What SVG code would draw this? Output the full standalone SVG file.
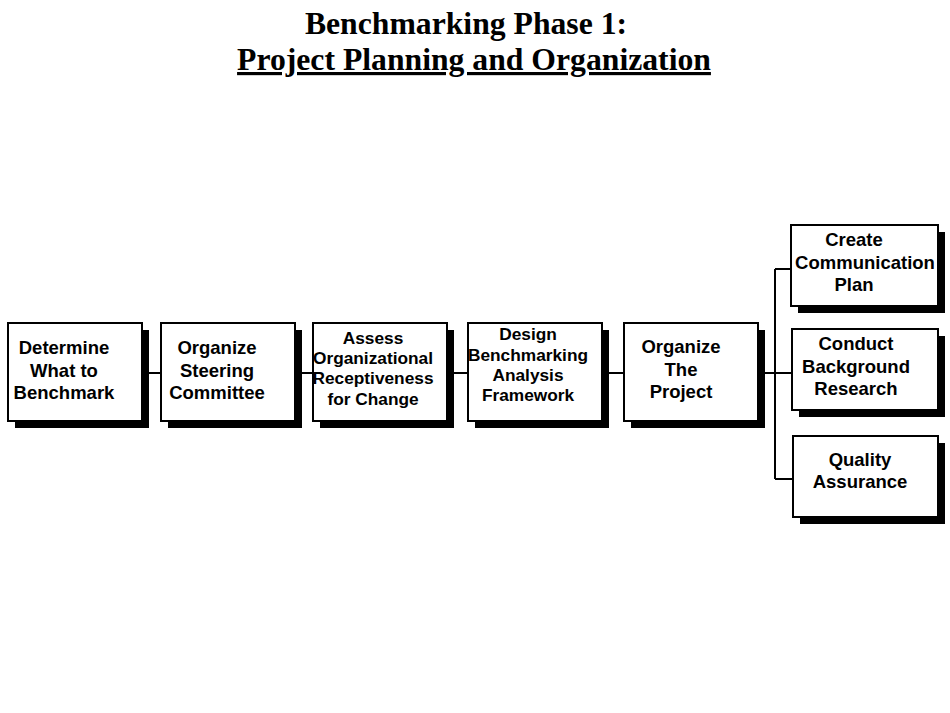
<svg xmlns="http://www.w3.org/2000/svg" width="950" height="713" viewBox="0 0 950 713">
<style>
.sh{fill:#000}
.bx{fill:#fff;stroke:#000;stroke-width:2}
.t{font-family:"Liberation Sans",Arial,sans-serif;font-weight:bold;font-size:18.5px;text-anchor:middle}
.s{font-size:17.3px}
.ttl{font-family:"Liberation Serif","Times New Roman",serif;font-weight:bold;font-size:31.7px;text-anchor:middle}
.c{stroke:#000;stroke-width:2;fill:none}
</style>
<rect width="950" height="713" fill="#fff"/>
<text class="ttl" x="466" y="34">Benchmarking Phase 1:</text>
<text class="ttl" x="474" y="70" text-decoration="underline">Project Planning and Organization </text>
<g id="connectors">
<path class="c" d="M149 373H161M302 373H313M454 373H468M609 373H624M765 373H792M775 269V479M775 269H791M775 479H793"/>
</g>
<g id="n1"><rect class="sh" x="15" y="330" width="134" height="98"/><rect class="bx" x="8" y="323" width="134" height="98"/>
<text class="t"><tspan x="64" y="354">Determine</tspan><tspan x="64" y="377">What to</tspan><tspan x="64" y="399">Benchmark</tspan></text></g>
<g id="n2"><rect class="sh" x="168" y="330" width="134" height="98"/><rect class="bx" x="161" y="323" width="134" height="98"/>
<text class="t"><tspan x="217" y="354">Organize</tspan><tspan x="217" y="377">Steering</tspan><tspan x="217" y="399">Committee</tspan></text></g>
<g id="n3"><rect class="sh" x="320" y="330" width="134" height="98"/><rect class="bx" x="313" y="323" width="134" height="98"/>
<text class="t s"><tspan x="373" y="344">Assess</tspan><tspan x="373" y="364">Organizational</tspan><tspan x="373" y="384">Receptiveness</tspan><tspan x="373" y="405">for Change</tspan></text></g>
<g id="n4"><rect class="sh" x="475" y="330" width="134" height="98"/><rect class="bx" x="468" y="323" width="134" height="98"/>
<text class="t s"><tspan x="528" y="340">Design</tspan><tspan x="528" y="361">Benchmarking</tspan><tspan x="528" y="381">Analysis</tspan><tspan x="528" y="401">Framework</tspan></text></g>
<g id="n5"><rect class="sh" x="631" y="330" width="134" height="98"/><rect class="bx" x="624" y="323" width="134" height="98"/>
<text class="t"><tspan x="681" y="353">Organize</tspan><tspan x="681" y="376">The</tspan><tspan x="681" y="398">Project</tspan></text></g>
<g id="n6"><rect class="sh" x="798" y="232" width="147" height="81"/><rect class="bx" x="791" y="225" width="147" height="81"/>
<text class="t"><tspan x="854" y="246">Create</tspan><tspan x="865" y="269">Communication</tspan><tspan x="854" y="291">Plan</tspan></text></g>
<g id="n7"><rect class="sh" x="799" y="336" width="146" height="81"/><rect class="bx" x="792" y="329" width="146" height="81"/>
<text class="t"><tspan x="856" y="350">Conduct</tspan><tspan x="856" y="373">Background</tspan><tspan x="856" y="395">Research</tspan></text></g>
<g id="n8"><rect class="sh" x="800" y="443" width="145" height="81"/><rect class="bx" x="793" y="436" width="145" height="81"/>
<text class="t"><tspan x="860" y="466">Quality</tspan><tspan x="860" y="488">Assurance</tspan></text></g>
</svg>
